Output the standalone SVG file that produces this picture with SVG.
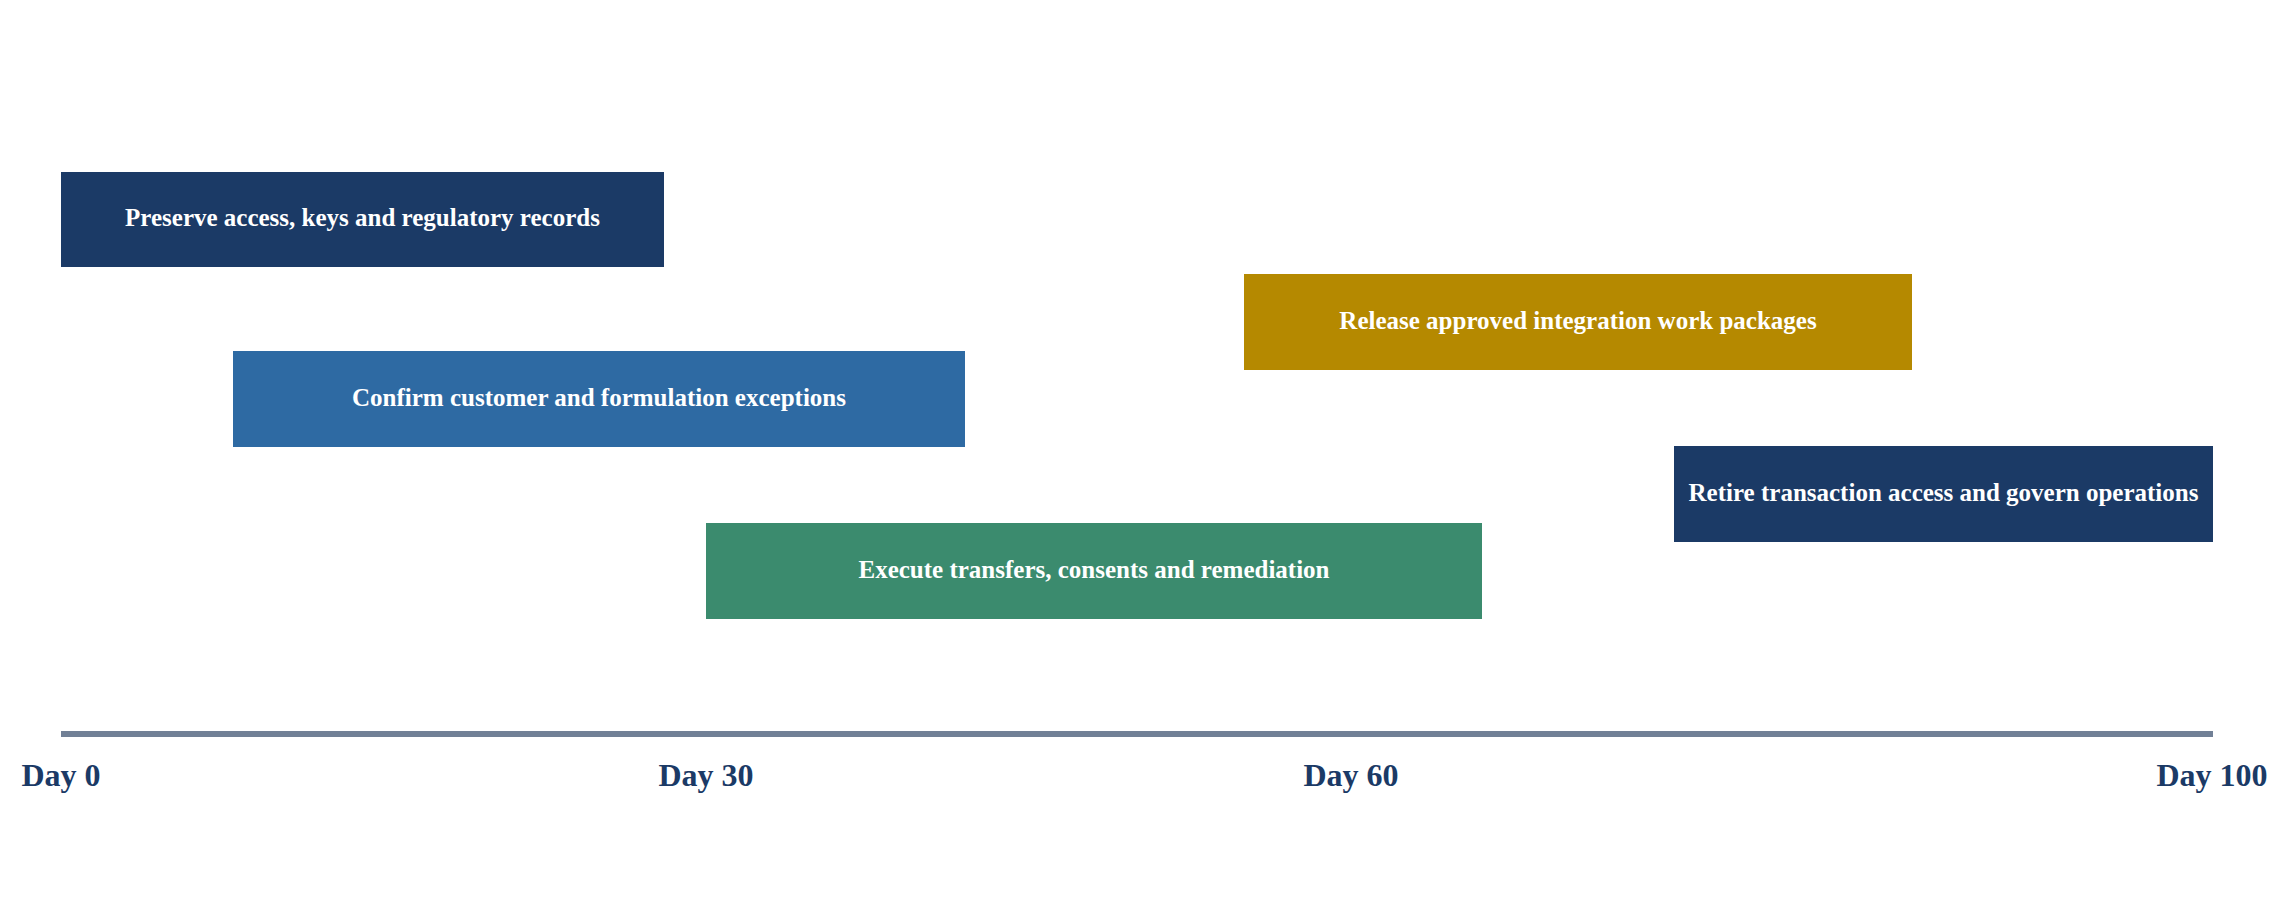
<svg xmlns="http://www.w3.org/2000/svg" width="2289" height="902" viewBox="0 0 2289 902">
<style>
.bar{stroke:none}
.lbl{font-family:"Liberation Serif","Times New Roman",serif;font-weight:bold;font-size:25px;fill:#ffffff;text-anchor:middle}
.tick{font-family:"Liberation Serif","Times New Roman",serif;font-weight:bold;font-size:32px;fill:#1b3a66;text-anchor:middle}
</style>
<rect width="2289" height="902" fill="#ffffff"/>
<g id="axis">
<line x1="61" y1="734" x2="2213" y2="734" stroke="#718096" stroke-width="6"/>
</g>
<g id="n1"><rect class="bar" x="61" y="172" width="603" height="95" fill="#1b3a66"/><text class="lbl" x="362.5" y="226">Preserve access, keys and regulatory records</text></g>
<g id="n2"><rect class="bar" x="233" y="351" width="732" height="96" fill="#2e6aa3"/><text class="lbl" x="599" y="406">Confirm customer and formulation exceptions</text></g>
<g id="n3"><rect class="bar" x="706" y="523" width="776" height="96" fill="#3b8b6e"/><text class="lbl" x="1094" y="578">Execute transfers, consents and remediation</text></g>
<g id="n4"><rect class="bar" x="1244" y="274" width="668" height="96" fill="#b58900"/><text class="lbl" x="1578" y="329">Release approved integration work packages</text></g>
<g id="n5"><rect class="bar" x="1674" y="446" width="539" height="96" fill="#1b3a66"/><text class="lbl" x="1943.5" y="501">Retire transaction access and govern operations</text></g>
<g id="ticks">
<text class="tick" x="61" y="786">Day 0</text>
<text class="tick" x="706" y="786">Day 30</text>
<text class="tick" x="1351" y="786">Day 60</text>
<text class="tick" x="2212" y="786">Day 100</text>
</g>
</svg>
